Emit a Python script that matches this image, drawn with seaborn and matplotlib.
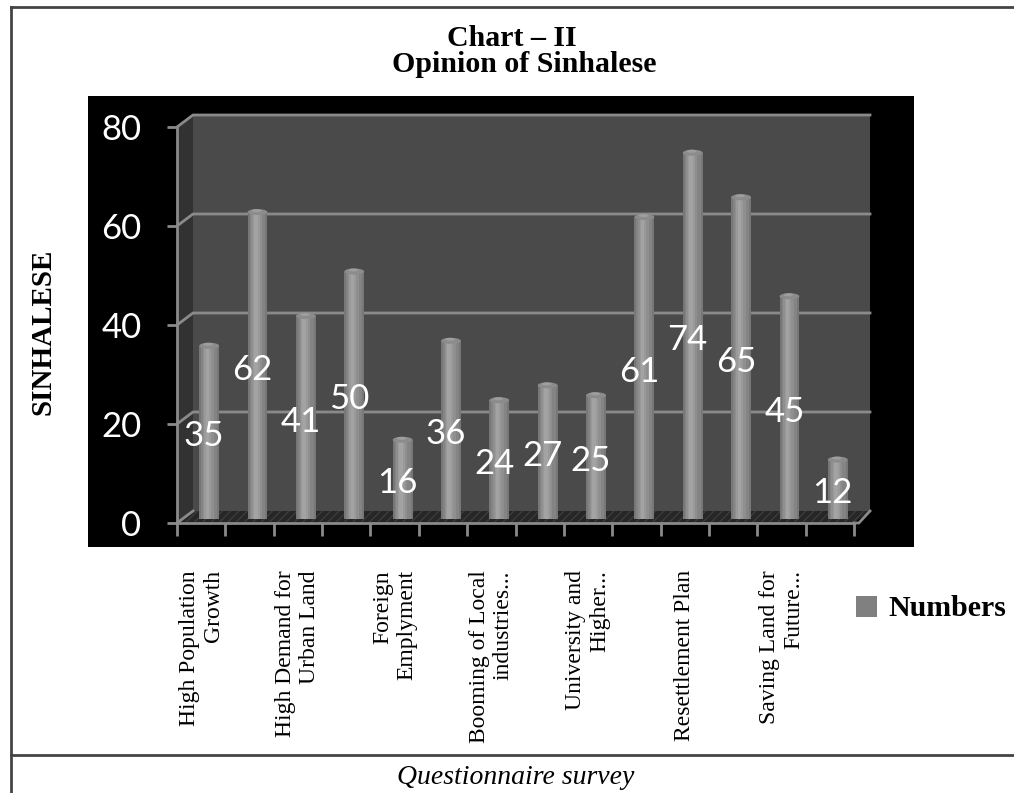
import numpy as np
import pandas as pd
import matplotlib
matplotlib.use("Agg")
import matplotlib.pyplot as plt
import matplotlib.transforms as mtransforms
from matplotlib.patches import Rectangle, Polygon, Ellipse, Patch
from matplotlib.lines import Line2D
import seaborn as sns

# ---- data -------------------------------------------------------------
numbers = [35, 62, 41, 50, 16, 36, 24, 27, 25, 61, 74, 65, 45, 12]
tick_labels = [
    "High Population\nGrowth",
    "High Demand for\nUrban Land",
    "Foreign\nEmplyment",
    "Booming of Local\nindustries...",
    "University and\nHigher...",
    "Resettlement Plan",
    "Saving Land for\nFuture...",
]
y_ticks = [0, 20, 40, 60, 80]
series_name = "Numbers"

df = pd.DataFrame({"item": list(range(len(numbers))), "value": numbers})

# ---- figure -----------------------------------------------------------
W, H, DPI = 1014, 793, 100
fig = plt.figure(figsize=(W / DPI, H / DPI), dpi=DPI, facecolor="white")


def fx(px):
    return px / W


def fy(py):
    return 1 - py / H


serif = "Liberation Serif"
sans = "Lato"

# black chart panel (behind the axes)
fig.patches.append(Rectangle((fx(88), fy(547)), fx(914) - fx(88), fy(96) - fy(547),
                             transform=fig.transFigure, facecolor="black",
                             edgecolor="none", zorder=-1))

# frame lines around the figure
line_kw = dict(color="#444444", lw=2, transform=fig.transFigure, zorder=-1)
fig.add_artist(Line2D([fx(11), 1], [fy(7), fy(7)], **line_kw))
fig.add_artist(Line2D([fx(11), fx(11)], [fy(7), 0], **line_kw))
fig.add_artist(Line2D([fx(11), 1], [fy(755), fy(755)], **line_kw))

# plotting axes (front plane of the pseudo-3D box)
x0, x1, y0, y1 = 177, 854, 523, 127
ax = fig.add_axes([fx(x0), fy(y0), fx(x1) - fx(x0), fy(y1) - fy(y0)])
ax.set_facecolor("none")
n = len(numbers)
ax.set_xlim(-0.5, n - 0.5)
ax.set_ylim(0, 80)

px_x = n / (x1 - x0)          # data units per pixel along x
px_y = 80 / (y0 - y1)         # data units per pixel along y
dx, dy = 16 * px_x, 12 * px_y  # depth offset of the back wall

wall_kw = dict(clip_on=False, zorder=0.5, linewidth=0)
# side wall
ax.add_patch(Polygon([(-0.5, 0), (-0.5, 80), (-0.5 + dx, 80 + dy), (-0.5 + dx, dy)],
                     closed=True, facecolor="#323232", **wall_kw))
# back wall
ax.add_patch(Rectangle((-0.5 + dx, dy), n, 80, facecolor="#4a4a4a", **wall_kw))
# floor
ax.add_patch(Polygon([(-0.5, 0), (n - 0.5, 0), (n - 0.5 + dx, dy), (-0.5 + dx, dy)],
                     closed=True, facecolor="#262626", edgecolor="#3c3c3c",
                     hatch="////", clip_on=False, zorder=0.6, linewidth=0))

grid_c = "#8a8a8a"
for v in y_ticks[1:]:
    ax.plot([-0.5, -0.5 + dx, n - 0.5 + dx], [v, v + dy, v + dy],
            color=grid_c, lw=2, clip_on=False, zorder=0.7)
ax.plot([-0.5, -0.5 + dx], [0, dy], color=grid_c, lw=2, clip_on=False, zorder=0.7)
ax.plot([n - 0.5, n - 0.5 + 0.1, n - 0.5 + dx], [0, 0, dy], color=grid_c, lw=2,
        clip_on=False, zorder=0.7)

# bars (cylinders): seaborn bars, then shading strips and a rounded cap
bar_w = 0.41
sns.barplot(data=df, x="item", y="value", color="#777777", width=bar_w,
            saturation=1, ax=ax, zorder=2, err_kws={"linewidth": 0})

shift = mtransforms.ScaledTranslation(8 / DPI, 4 / DPI, fig.dpi_scale_trans)
strips = [  # (start fraction, width fraction, colour)
    (0.10, 0.80, "#848484"),
    (0.18, 0.55, "#8f8f8f"),
    (0.26, 0.34, "#9a9a9a"),
    (0.32, 0.18, "#a3a3a3"),
]
bars = [p for p in ax.patches if isinstance(p, Rectangle) and p.get_zorder() == 2]
for bar in bars:
    bar.set_transform(ax.transData + shift)
    bar.set_edgecolor("none")
    bx, bw, bh = bar.get_x(), bar.get_width(), bar.get_height()
    for k, (s0, sw, c) in enumerate(strips):
        ax.add_patch(Rectangle((bx + s0 * bw, 0), sw * bw, bh, facecolor=c,
                               edgecolor="none", transform=ax.transData + shift,
                               zorder=2.05 + 0.01 * k))
    ax.add_patch(Ellipse((bx + bw / 2, bh), bw, 6 * px_y, facecolor="#8c8c8c",
                         edgecolor="none", transform=ax.transData + shift, zorder=2.2))
    ax.add_patch(Ellipse((bx + bw * 0.45, bh + 0.3), bw * 0.5, 3 * px_y,
                         facecolor="#9e9e9e", edgecolor="none",
                         transform=ax.transData + shift, zorder=2.21))

# value labels
for i, v in enumerate(numbers):
    ax.text(i + 0.06, v / 2, str(v), color="white", fontsize=25, family=sans,
            ha="center", va="center", zorder=5)

# axes styling
for s in ["top", "right"]:
    ax.spines[s].set_visible(False)
for s in ["left", "bottom"]:
    ax.spines[s].set_color(grid_c)
    ax.spines[s].set_linewidth(2)
    ax.spines[s].set_zorder(3)

ax.set_xlim(-0.5, n - 0.5)
ax.set_ylim(0, 80)
ax.set_yticks(y_ticks)
ax.set_yticklabels([str(t) for t in y_ticks], color="white", fontsize=25, family=sans)
ax.tick_params(axis="y", length=7.5, width=2, color=grid_c, pad=18)

ax.set_xticks(np.arange(-0.5, n, 1.0))
ax.set_xticklabels([])
ax.tick_params(axis="x", which="major", length=9, width=2, color=grid_c)
ax.set_xticks(np.arange(0, n, 2), minor=True)
ax.set_xticklabels(tick_labels, minor=True, rotation=90, fontsize=17,
                   family=serif, multialignment="right")
ax.tick_params(axis="x", which="minor", length=0, pad=34)
ax.set_xlabel("")
ax.set_ylabel("")

# titles and annotations
fig.text(fx(512), fy(38), "Chart \u2013 II", ha="center", va="center",
         fontsize=21.5, fontweight="bold", family=serif)
fig.text(fx(524), fy(65), "Opinion of Sinhalese", ha="center", va="center",
         fontsize=21.5, fontweight="bold", family=serif)
fig.text(fx(43), fy(332), "SINHALESE", rotation=90, ha="center", va="center",
         fontsize=21, fontweight="bold", family=serif)
fig.text(fx(516), fy(777), "Questionnaire survey", ha="center", va="center",
         fontsize=20, style="italic", family=serif)

fig.legend(handles=[Patch(facecolor="#808080", edgecolor="none", label=series_name)],
           loc="center left", bbox_to_anchor=(fx(856), fy(609)),
           frameon=False, handlelength=0.7, handleheight=0.7, handletextpad=0.4,
           borderaxespad=0, borderpad=0,
           prop={"family": serif, "weight": "bold", "size": 21.5})

fig.savefig("out.png", dpi=DPI, facecolor="white")
